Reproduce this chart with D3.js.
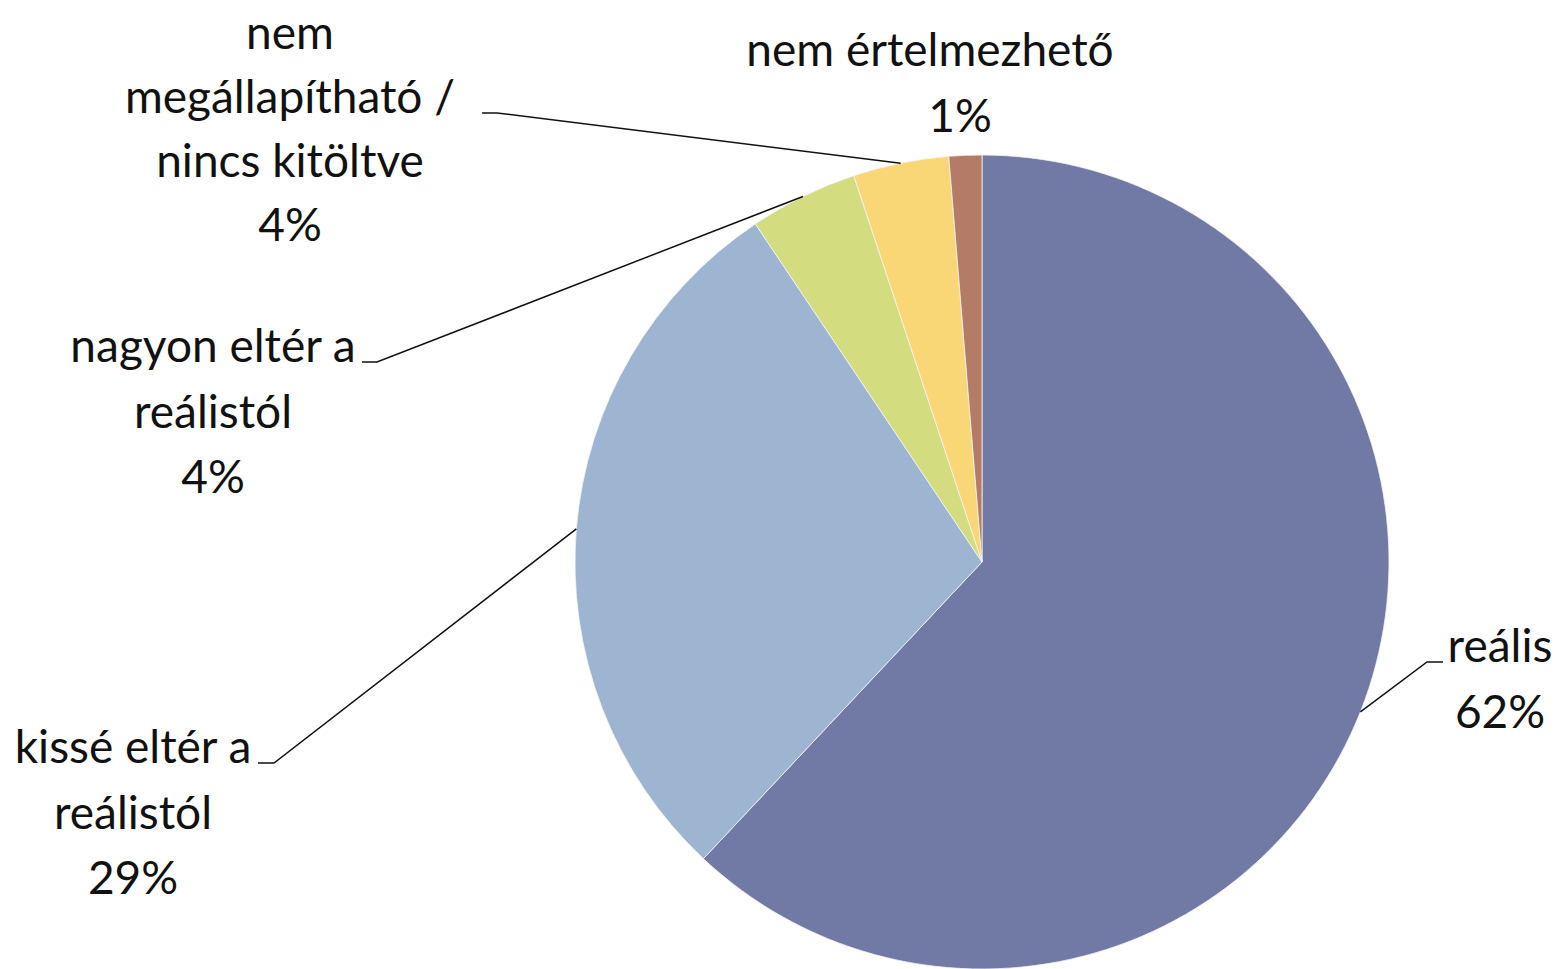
<!DOCTYPE html>
<html>
<head>
<meta charset="utf-8">
<script src="https://cdn.jsdelivr.net/npm/d3@7"></script>
<style>
  body { margin: 0; background: #fff; }
  svg { display: block; }
  .lbl { font-family: Lato, "Open Sans", sans-serif; font-size: 46px; fill: #111; }
</style>
</head>
<body>
<svg id="chart" width="1568" height="969"></svg>
<script>
// adatok
const categories = ["reális", "kissé eltér a reálistól", "nagyon eltér a reálistól",
  "nem megállapítható / nincs kitöltve", "nem értelmezhető"];
const values = [62, 28.6, 4.3, 3.8, 1.3];
const colors = ["#717aa4", "#9db5d1", "#d3dc7e", "#f9d776", "#b47b67"];

// label lines, as they are broken in the original
const labelLines = [
  ["reális"],
  ["kissé eltér a", "reálistól"],
  ["nagyon eltér a", "reálistól"],
  ["nem", "megállapítható /", "nincs kitöltve"],
  ["nem értelmezhető"]
];

// where each label block sits and where its leader line starts
const labelPos = [
  { x: 1500, y: 662, lead: [1443, 1427], leadY: 662 },
  { x: 133, y: 763, lead: [258, 274], leadY: 763 },
  { x: 213, y: 362, lead: [362, 377], leadY: 362 },
  { x: 290, y: 49, lead: [482, 497], leadY: 113, lineH: 64 },
  { x: 930, y: 66, lead: null }
];

const svg = d3.select("#chart");
const cx = 982, cy = 562, radius = 407;
const lineH = 65.5;

const data = categories.map((c, i) => ({ category: c, value: values[i], color: colors[i] }));

const pie = d3.pie().value(d => d.value).sort(null);
const arc = d3.arc().innerRadius(0).outerRadius(radius);
const arcs = pie(data);

const chart = svg.append("g").attr("transform", `translate(${cx}, ${cy})`);

chart.selectAll("path")
  .data(arcs)
  .enter()
  .append("path")
  .attr("d", arc)
  .attr("fill", d => d.data.color)
  .attr("stroke", "#f4f4f4")
  .attr("stroke-width", 0.8);

// leader lines: short horizontal piece, then to the middle of the slice edge
arcs.forEach((a, i) => {
  const p = labelPos[i];
  if (!p.lead) return;
  const mid = (a.startAngle + a.endAngle) / 2;
  const ex = cx + radius * Math.sin(mid);
  const ey = cy - radius * Math.cos(mid);
  svg.append("polyline")
    .attr("points", `${p.lead[0]},${p.leadY} ${p.lead[1]},${p.leadY} ${ex},${ey}`)
    .attr("fill", "none")
    .attr("stroke", "#111")
    .attr("stroke-width", 1.5);
});

// labels
arcs.forEach((a, i) => {
  const p = labelPos[i];
  const lh = p.lineH || lineH;
  const lines = labelLines[i].concat([Math.round(a.data.value) + "%"]);
  const t = svg.append("text")
    .attr("class", "lbl")
    .attr("text-anchor", "middle");
  lines.forEach((l, j) => {
    t.append("tspan")
      .attr("x", i === 4 && j === 1 ? p.x + 30 : p.x)
      .attr("y", p.y + j * lh)
      .text(l);
  });
});
</script>
</body>
</html>
